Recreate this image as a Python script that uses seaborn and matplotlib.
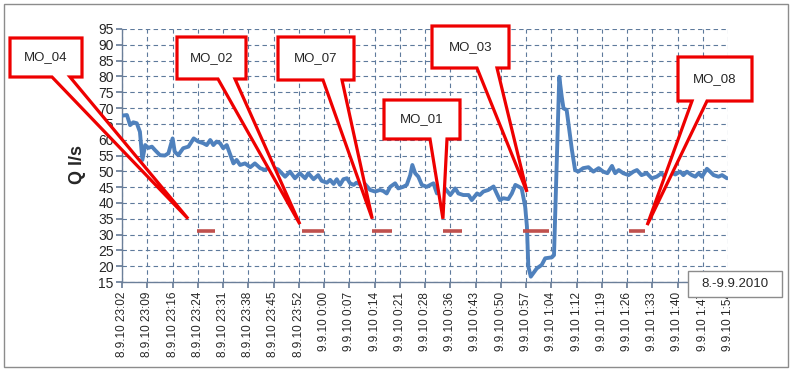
import matplotlib
matplotlib.use("Agg")
import matplotlib.pyplot as plt
import seaborn as sns
import pandas as pd
from matplotlib.patches import Polygon, Rectangle

# minutes after 8.9.2010 23:02 and discharge Q (l/s)
minutes = [0.0, 1.4, 2.3, 3.2, 4.2, 5.1, 5.8, 6.6, 7.5, 8.5, 9.4, 10.8, 12.2, 13.2, 14.4, 15.0,
           16.0, 17.4, 18.9, 20.4, 21.7, 23.1, 24.1, 25.1, 26.0, 26.9, 27.9, 28.8, 29.8, 30.8,
           31.7, 32.6, 33.6, 35.0, 36.5, 37.8, 39.3, 40.7, 42.1, 44.4, 46.4, 47.8, 49.2, 50.6,
           52.1, 53.0, 54.5, 55.8, 56.8, 58.3, 59.2, 60.2, 61.1, 62.0, 63.0, 64.0, 64.9, 65.9,
           66.7, 68.2, 69.1, 70.6, 72.0, 73.4, 74.3, 75.3, 76.3, 77.7, 78.6, 80.0, 81.0, 82.0,
           82.6, 83.4, 84.3, 85.3, 86.7, 87.7, 88.6, 89.6, 90.5, 91.9, 93.4, 94.8, 95.7, 97.1,
           98.6, 99.5, 101.0, 101.8, 102.8, 104.2, 105.7, 106.6, 107.5, 108.5, 109.9, 110.9,
           111.9, 112.8, 113.7, 114.7, 115.2, 115.6, 116.3, 118.0, 119.4, 120.4, 122.3, 122.9,
           124.4, 125.1, 125.6, 126.5, 128.0, 128.9, 129.8, 131.2, 132.7, 134.1, 135.6, 136.9,
           138.1, 139.4, 140.3, 141.3, 142.6, 144.1, 145.5, 146.5, 147.8, 149.3, 150.7, 152.1,
           153.5, 154.5, 155.9, 157.4, 158.8, 159.7, 160.7, 162.1, 163.1, 164.0, 165.0, 166.4,
           167.3, 168.3, 169.7, 170.7, 172.1]
flow = [67.6, 67.8, 64.6, 65.5, 65.2, 62.5, 53.6, 58.3, 57.4, 57.8, 56.7, 55.1, 55.0, 55.7, 60.4, 56.2,
        55.1, 57.3, 57.8, 60.4, 59.4, 58.9, 58.3, 59.9, 58.3, 59.4, 58.9, 57.3, 58.3, 55.2,
        52.5, 53.6, 52.0, 52.5, 51.3, 52.5, 51.0, 50.4, 51.5, 50.6, 48.3, 49.9, 47.8, 49.4,
        47.8, 49.4, 47.5, 48.8, 47.0, 46.4, 47.3, 46.0, 47.5, 45.7, 47.5, 47.8, 46.2, 45.7,
        46.4, 45.7, 46.0, 44.1, 43.6, 44.1, 43.8, 43.0, 45.1, 46.2, 44.6, 45.1, 45.7, 48.8,
        52.0, 49.4, 48.3, 45.7, 45.1, 45.7, 46.2, 43.0, 44.0, 44.6, 42.5, 44.6, 43.0, 42.5,
        42.5, 40.9, 43.0, 42.5, 43.6, 44.1, 45.2, 43.0, 40.9, 41.5, 41.2, 43.0,
        45.7, 45.2, 44.6, 38.8, 32.5, 19.8, 16.7, 19.3, 20.4, 22.5, 22.8, 23.5,
        79.9, 73.6, 69.9, 69.4, 56.7, 50.4, 49.9, 51.0, 51.3, 49.9, 51.0, 49.9,
        49.4, 51.7, 49.4, 50.4, 49.4, 48.8, 49.9, 50.4, 48.8, 49.4, 47.8, 48.3,
        49.4, 48.0, 49.9, 49.0, 49.9, 48.8, 49.9, 48.8, 48.3, 49.4, 48.3, 50.8,
        49.9, 48.8, 48.3, 48.8, 47.8]

tick_labels = ["8.9.10 23:02", "8.9.10 23:09", "8.9.10 23:16", "8.9.10 23:24", "8.9.10 23:31",
               "8.9.10 23:38", "8.9.10 23:45", "8.9.10 23:52", "9.9.10 0:00", "9.9.10 0:07",
               "9.9.10 0:14", "9.9.10 0:21", "9.9.10 0:28", "9.9.10 0:36", "9.9.10 0:43",
               "9.9.10 0:50", "9.9.10 0:57", "9.9.10 1:04", "9.9.10 1:12", "9.9.10 1:19",
               "9.9.10 1:26", "9.9.10 1:33", "9.9.10 1:40", "9.9.10 1:47", "9.9.10 1:54"]
span = 172.4

# sampling periods (start, end in minutes) drawn at level 31
sample_start = [21.2, 51.1, 71.1, 91.2, 114.2, 144.1]
sample_end = [26.5, 57.6, 76.8, 96.6, 121.6, 148.8]
sample_level = 31

# callouts: label and the point the tail points at (minutes, Q)
callout_labels = ["MO_04", "MO_02", "MO_07", "MO_01", "MO_03", "MO_08"]
callout_tip_x = [18.8, 50.6, 71.2, 91.3, 115.2, 149.4]
callout_tip_y = [35.0, 33.3, 35.0, 35.0, 43.5, 33.0]

# layout of the callout boxes in figure pixels: left, top, right, bottom, tail base x1, x2
box_layout = [(10, 38, 82, 77, 52, 70), (177, 37, 246, 79, 218, 235),
              (278, 37, 354, 80, 323, 342), (384, 100, 460, 139, 430, 447),
              (432, 26, 509, 68, 477, 497), (678, 57, 752, 101, 692, 707)]

W, H = 794, 371
sns.set_theme(style="white")
plt.rcParams['font.family'] = ['Liberation Sans', 'DejaVu Sans']

fig = plt.figure(figsize=(W / 100, H / 100), dpi=100)
ax = fig.add_axes([122 / W, 1 - 282 / H, (728 - 122) / W, (282 - 29) / H])

df = pd.DataFrame({"t": minutes, "q": flow})
sns.lineplot(data=df, x="t", y="q", color="#4F81BD", lw=2.8, sort=False,
             estimator=None, ax=ax, zorder=3)
ax.hlines([sample_level] * len(sample_start), sample_start, sample_end,
          color="#C0504D", lw=2.6, zorder=3)

ax.set_xlim(0, span)
ax.set_ylim(15, 95)
ax.set_xticks([i * span / 24 for i in range(25)])
ax.set_xticklabels(tick_labels, rotation=90, fontsize=8.5)
ax.set_yticks(range(15, 100, 5))
ax.tick_params(axis="y", labelsize=10, length=4, color="#6B7F99", pad=2)
ax.tick_params(axis="x", length=4, color="#6B7F99", pad=3)
ax.tick_params(bottom=True, left=True)
ax.grid(True, ls=(0, (4, 3)), color="#5E7A9C", lw=0.8)
for s in ["top", "right"]:
    ax.spines[s].set_visible(False)
for s in ["left", "bottom"]:
    ax.spines[s].set_color("#6B7F99")
    ax.spines[s].set_linewidth(1.0)
ax.set_xlabel("")
ax.set_ylabel("")
fig.text(77 / W, 1 - 165 / H, "Q l/s", rotation=90, ha="center", va="center",
         fontsize=13, fontweight="bold")


def fpt(x, y):
    return (x / W, 1 - y / H)


to_fig = fig.transFigure.inverted()
for lab, tx, ty, (l, t, r, b, b1, b2) in zip(callout_labels, callout_tip_x, callout_tip_y, box_layout):
    tip = to_fig.transform(ax.transData.transform((tx, ty)))
    pts = [fpt(l, t), fpt(r, t), fpt(r, b), fpt(b2, b), tuple(tip), fpt(b1, b), fpt(l, b)]
    fig.add_artist(Polygon(pts, closed=True, transform=fig.transFigure, fc="white",
                           ec="#EE0000", lw=2.3, joinstyle="miter", zorder=5))
    fig.text((l + r) / 2 / W, 1 - (t + b) / 2 / H, lab, ha="center", va="center",
             fontsize=9.5, zorder=6)

# date box
fig.add_artist(Rectangle(fpt(688, 297), 94 / W, 26 / H, transform=fig.transFigure,
                         fc="white", ec="#8C8C8C", lw=1.0, zorder=5))
fig.text(735 / W, 1 - 284 / H, "8.-9.9.2010", ha="center", va="center", fontsize=9.5, zorder=6)

# outer chart border
fig.add_artist(Rectangle(fpt(4, 367), 784 / W, 363 / H, transform=fig.transFigure,
                         fc="none", ec="#8C8C8C", lw=1.0, zorder=1))

fig.savefig("out.png", dpi=100)
